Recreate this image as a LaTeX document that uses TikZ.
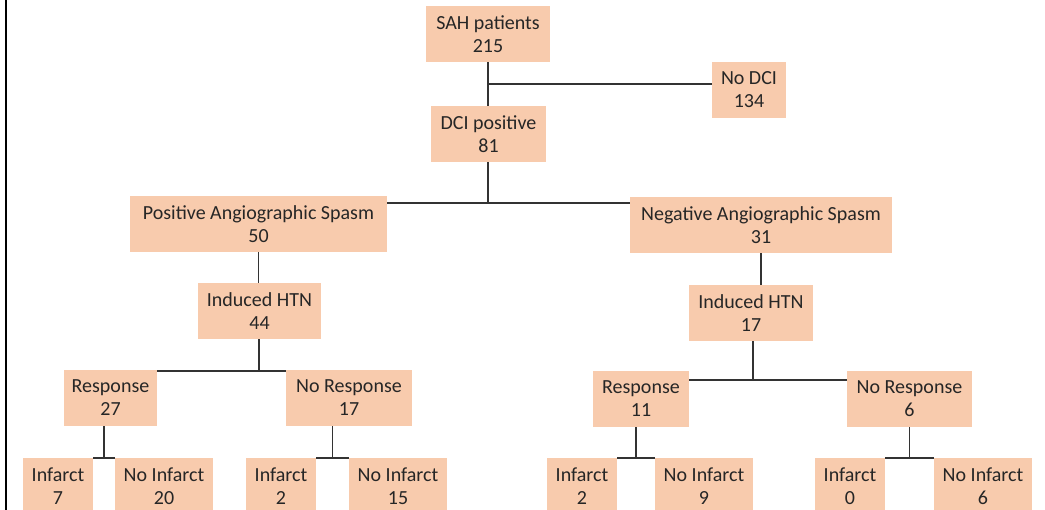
\documentclass[tikz,border=0pt]{standalone}
\usepackage{fontspec}
\setmainfont{Carlito}
\usetikzlibrary{calc}
\definecolor{peach}{HTML}{F8CBAD}

\begin{document}
\begin{tikzpicture}[x=1pt,y=-1pt,
  box/.style={fill=peach,align=center,inner sep=0pt,minimum height=56pt,text=black!85,
    font=\fontsize{20}{23}\selectfont,execute at begin node={\rule{0pt}{18pt}}},
  link/.style={line width=1.6pt,black!80}]
\useasboundingbox (0,0) rectangle (1045,510);
\clip (0,0) rectangle (1045,510);
\fill[white] (0,0) rectangle (1045,510);
\draw[line width=1.6pt] (6,0)--(6,510);
\node[box,minimum width=124pt] (sah) at (488,34) {SAH patients\\215};
\node[box,minimum width=74pt] (nodci) at (749,90) {No DCI\\134};
\node[box,minimum width=115pt] (dci) at (488.5,134) {DCI positive\\81};
\node[box,minimum width=257pt] (pos) at (258.5,224) {Positive Angiographic Spasm\\50};
\node[box,minimum width=262pt] (neg) at (761,225) {Negative Angiographic Spasm\\31};
\node[box,minimum width=123pt] (htnL) at (259.5,311) {Induced HTN\\44};
\node[box,minimum width=124pt] (htnR) at (751,313) {Induced HTN\\17};
\node[box,minimum width=93pt] (respL) at (110.5,398) {Response\\27};
\node[box,minimum width=126pt] (norespL) at (349,398) {No Response\\17};
\node[box,minimum width=96pt] (respR) at (641,399) {Response\\11};
\node[box,minimum width=125pt] (norespR) at (909.5,399) {No Response\\6};
\node[box,minimum width=70pt] (inf1) at (58,486) {Infarct\\7};
\node[box,minimum width=98pt] (noinf1) at (164,486) {No Infarct\\20};
\node[box,minimum width=70pt] (inf2) at (281,486) {Infarct\\2};
\node[box,minimum width=98pt] (noinf2) at (398,486) {No Infarct\\15};
\node[box,minimum width=70pt] (inf3) at (582,486) {Infarct\\2};
\node[box,minimum width=98pt] (noinf3) at (704,486) {No Infarct\\9};
\node[box,minimum width=70pt] (inf4) at (850,486) {Infarct\\0};
\node[box,minimum width=98pt] (noinf4) at (983,486) {No Infarct\\6};
\coordinate (j1) at ($(sah.south)!.5!(dci.north)$);
\coordinate (j2) at (488,203);
\coordinate (j3) at (259,371);
\coordinate (j4) at (753,380);
\draw[link] (sah.south) -- (sah.south |- dci.north);
\draw[link] (j1) -- (j1 -| nodci.west);
\draw[link] (j2 |- dci.south) -- (j2);
\draw[link] (j2 -| pos.east) -- (j2 -| neg.west);
\draw[link] (pos.south) -- (pos.south |- htnL.north);
\draw[link] (neg.south) -- (neg.south |- htnR.north);
\draw[link] (j3 |- htnL.south) -- (j3);
\draw[link] (j3 -| respL.east) -- (j3 -| norespL.west);
\draw[link] (j4 |- htnR.south) -- (j4);
\draw[link] (j4 -| respR.east) -- (j4 -| norespR.west);
\foreach \r/\a/\b in {respL/inf1/noinf1,norespL/inf2/noinf2,respR/inf3/noinf3,norespR/inf4/noinf4}{
  \coordinate (m) at ($(\a.north east)!.5!(\b.north west)$);
  \draw[link] (m |- \r.south) -- (m);
  \draw[link] (\a.north east) -- (\b.north west);
}
\end{tikzpicture}
\end{document}
